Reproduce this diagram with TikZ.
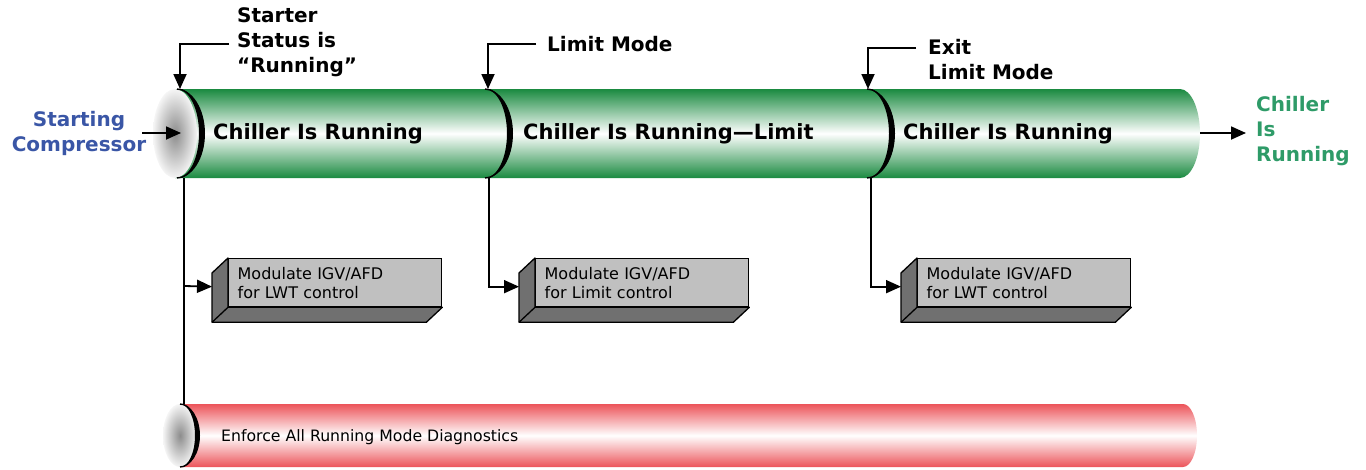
\documentclass[tikz,border=0pt]{standalone}
\usepackage{fontspec}
\setmainfont{DejaVu Sans}
\usetikzlibrary{arrows.meta,calc}
\definecolor{tubegreen}{RGB}{26,138,64}
\definecolor{tubered}{RGB}{236,84,90}
\definecolor{lblblue}{RGB}{58,86,166}
\definecolor{lblgreen}{RGB}{46,155,104}
\definecolor{boxface}{RGB}{192,192,192}
\definecolor{boxside}{RGB}{112,112,112}
\tikzset{
  arr/.style={line width=1.8pt,-{Triangle[length=15pt,width=13pt]}},
  conn/.style={line width=1.6pt},
  biglbl/.style={font=\bfseries\fontsize{20}{25}\selectfont,align=left,inner sep=0pt},
  tubelbl/.style={font=\bfseries\fontsize{21}{25}\selectfont,anchor=west,inner sep=0pt},
  modbox/.style={draw,line width=1.3pt,fill=boxface,minimum width=213pt,minimum height=48pt,
     anchor=north west,inner xsep=9pt,text width=195pt,align=left,
     font=\fontsize{16}{19}\selectfont},
}
\begin{document}
\begin{tikzpicture}[x=1pt,y=-1pt]
\useasboundingbox (0,0) rectangle (1366,469);
% ---------- green tube ----------
\shade[top color=tubegreen,bottom color=tubegreen,middle color=white]
  (175,89) -- (1180,89) arc[start angle=-90,end angle=90,x radius=20,y radius=44.5]
  -- (175,178) -- cycle;
\shade[inner color=gray!90,outer color=gray!8] (175,133.5) ellipse[x radius=22,y radius=44.5];
% crescents
\foreach \X in {177,485,867}{
  \fill (\X,89) arc[start angle=-90,end angle=90,x radius=28,y radius=44.5]
        arc[start angle=90,end angle=-90,x radius=22,y radius=44.5] -- cycle;
  \draw[line width=1.4pt] (\X,89) arc[start angle=-90,end angle=90,x radius=25,y radius=44.5];
}
% ---------- red tube ----------
\shade[top color=tubered,bottom color=tubered,middle color=white]
  (180,404) -- (1183,404) arc[start angle=-90,end angle=90,x radius=14,y radius=31.5]
  -- (180,467) -- cycle;
\shade[inner color=gray!90,outer color=gray!8] (180,435.5) ellipse[x radius=17,y radius=31.5];
\fill (180,404) arc[start angle=-90,end angle=90,x radius=20,y radius=31.5]
      arc[start angle=90,end angle=-90,x radius=15,y radius=31.5] -- cycle;
\draw[line width=1.4pt] (180,404) arc[start angle=-90,end angle=90,x radius=18,y radius=31.5];
% ---------- coordinates ----------
\coordinate (a1t) at (180,89);  \coordinate (a1b) at (184,178);
\coordinate (a2t) at (488,89);  \coordinate (a2b) at (489,178);
\coordinate (a3t) at (868,89);  \coordinate (a3b) at (871,178);
\coordinate (redtop) at (184,404);
\coordinate (br1) at (184,286);
\coordinate (s1) at (229,44);
\coordinate (s2) at (536,44);
\coordinate (s3) at (916,48);
\coordinate (cin) at (142,133);
\coordinate (ctip) at (181,133);
\coordinate (gout) at (1200,133);
\coordinate (gtip) at (1246,133);
% ---------- tube labels ----------
\node[tubelbl] (t1) at (213,133.5) {Chiller Is Running};
\node[tubelbl] (t2) at (523,133.5) {Chiller Is Running—Limit};
\node[tubelbl] (t3) at (903,133.5) {Chiller Is Running};
\node[anchor=west,inner sep=0pt,font=\fontsize{15.7}{19}\selectfont] (t4) at (221,437) {Enforce All Running Mode Diagnostics};
% ---------- boxes ----------
\foreach \n/\x/\txt in {b1/228/{Modulate IGV/AFD\\for LWT control},
                         b2/535/{Modulate IGV/AFD\\for Limit control},
                         b3/917/{Modulate IGV/AFD\\for LWT control}}{
  \node[modbox] (\n) at (\x,258) {\txt};
  \filldraw[fill=boxside,line width=1.3pt,line join=round]
    (\n.north west) -- ++(-16,15) -- ($(\n.south west)+(-16,15)$) -- ($(\n.south east)+(-16,15)$)
    -- (\n.south east) -- (\n.south west) -- cycle;
  \draw[line width=1.3pt] (\n.south west) -- ++(-16,15);
  \coordinate (\n tip) at ($(\n.west)+(-16,4)$);
}
% ---------- top labels ----------
\node[biglbl,anchor=west] (l1) at (237,42) {Starter\\Status is\\“Running”};
\node[biglbl,anchor=west] (l2) at (547,44) {Limit Mode};
\node[biglbl,anchor=west] (l3) at (928,59.5) {Exit\\Limit Mode};
\node[biglbl,align=center,anchor=center,text=lblblue] (l4) at (79,133.5) {Starting\\Compressor};
\node[biglbl,anchor=west,text=lblgreen] (l5) at (1256,131) {Chiller\\Is\\Running};
% ---------- connectors ----------
\draw[arr] (s1) -| (a1t);
\draw[arr] (s2) -| (a2t);
\draw[arr] (s3) -| (a3t);
\draw[arr] (cin) -- (ctip);
\draw[arr] (gout) -- (gtip);
\draw[conn] (a1b) -- (redtop);
\draw[arr] (br1) -- (b1tip);
\draw[arr] (a2b) |- (b2tip);
\draw[arr] (a3b) |- (b3tip);
\end{tikzpicture}
\end{document}
